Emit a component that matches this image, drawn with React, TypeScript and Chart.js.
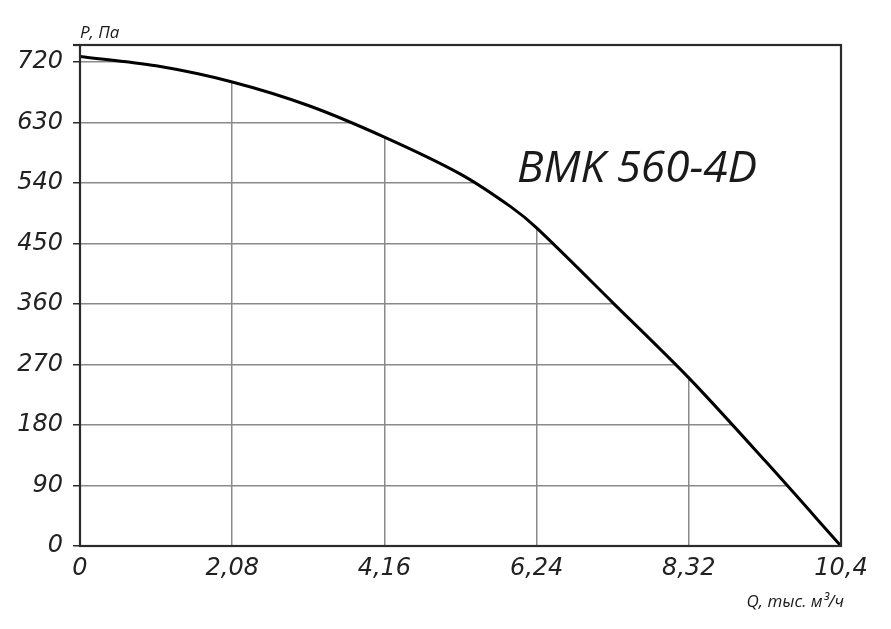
import { useEffect, useRef } from "react";
import { Chart, registerables, type ChartConfiguration, type Plugin } from "chart.js";

Chart.register(...registerables);

// flow Q (thousand m³/h) and pressure P (Pa)
const FLOW_Q = [0, 1.04, 2.08, 3.12, 4.16, 5.2, 5.88, 6.24, 7.28, 8.32, 9.36, 10.4];
const PRESSURE_P = [728, 714, 690, 655, 608, 553, 505, 473, 362, 250, 127, 0];

const X_TICKS = [0, 2.08, 4.16, 6.24, 8.32, 10.4];
const X_TICK_LABELS = ["0", "2,08", "4,16", "6,24", "8,32", "10,4"];
const Y_TICKS = [0, 90, 180, 270, 360, 450, 540, 630, 720];
const Y_TICK_LABELS = ["0", "90", "180", "270", "360", "450", "540", "630", "720"];

const MODEL = "BMK 560-4D";
const Y_TITLE = "P, Па";
const X_TITLE = "Q, тыс. м³/ч";

const W = 891;
const H = 629;
const TICK_FONT = { family: "'DejaVu Sans', sans-serif", style: "italic" as const, size: 24 };

const framePlugin: Plugin = {
  id: "frame",
  afterDraw(chart) {
    const { ctx, chartArea: a } = chart;
    ctx.save();
    ctx.strokeStyle = "#2b2b2b";
    ctx.lineWidth = 2.2;
    ctx.strokeRect(a.left, a.top, a.right - a.left, a.bottom - a.top);
    ctx.beginPath();
    ctx.moveTo(a.left - 7, a.top);
    ctx.lineTo(a.left, a.top);
    ctx.stroke();

    ctx.fillStyle = "#1a1a1a";
    // model name, squeezed to the width seen in the picture
    ctx.font = "italic 44px 'Open Sans', sans-serif";
    ctx.textBaseline = "alphabetic";
    ctx.textAlign = "left";
    const tw = ctx.measureText(MODEL).width;
    ctx.translate(517, 182);
    ctx.scale(240 / tw, 1);
    ctx.fillText(MODEL, 0, 0);
    ctx.setTransform(1, 0, 0, 1, 0, 0);

    ctx.font = "italic 17px 'Open Sans', sans-serif";
    ctx.fillText(Y_TITLE, a.left, 38);
    ctx.textAlign = "right";
    ctx.fillText(X_TITLE, a.right + 3, 607);
    ctx.restore();
  },
};

export default function App() {
  const canvasRef = useRef<HTMLCanvasElement>(null);
  const chartRef = useRef<Chart | null>(null);

  useEffect(() => {
    const ctx = canvasRef.current?.getContext("2d");
    if (!ctx) return;
    chartRef.current?.destroy();

    const config: ChartConfiguration<"line"> = {
      type: "line",
      data: {
        datasets: [
          {
            data: FLOW_Q.map((q, i) => ({ x: q, y: PRESSURE_P[i] })),
            borderColor: "#000",
            borderWidth: 3,
            pointRadius: 0,
            tension: 0.3,
            fill: "end",
            backgroundColor: "#fff",
          },
        ],
      },
      options: {
        responsive: false,
        animation: false,
        layout: { padding: { top: 45, right: W - 841, left: 0, bottom: 0 } },
        plugins: { legend: { display: false }, tooltip: { enabled: false } },
        scales: {
          x: {
            type: "linear",
            min: 0,
            max: 10.4,
            afterBuildTicks: (s) => {
              s.ticks = X_TICKS.map((v) => ({ value: v }));
            },
            afterFit: (s) => {
              s.height = H - 546;
            },
            ticks: {
              color: "#222",
              font: TICK_FONT,
              padding: 8,
              maxRotation: 0,
              autoSkip: false,
              callback: (_v, i) => X_TICK_LABELS[i],
            },
            grid: { color: "#8a8a8a", lineWidth: 1.5, drawTicks: false },
            border: { display: false },
          },
          y: {
            min: 0,
            max: 745,
            afterBuildTicks: (s) => {
              s.ticks = Y_TICKS.map((v) => ({ value: v }));
            },
            afterFit: (s) => {
              s.width = 80;
            },
            ticks: {
              color: "#222",
              font: TICK_FONT,
              padding: 10,
              autoSkip: false,
              callback: (_v, i) => Y_TICK_LABELS[i],
            },
            grid: { color: "#8a8a8a", lineWidth: 1.5, tickLength: 7, tickColor: "#2b2b2b" },
            border: { display: false },
          },
        },
      },
      plugins: [framePlugin],
    };

    chartRef.current = new Chart(ctx, config);
    return () => chartRef.current?.destroy();
  }, []);

  return (
    <div style={{ position: "fixed", left: 0, top: 0, width: W, height: H, background: "#fff" }}>
      <canvas ref={canvasRef} width={W} height={H} />
    </div>
  );
}
